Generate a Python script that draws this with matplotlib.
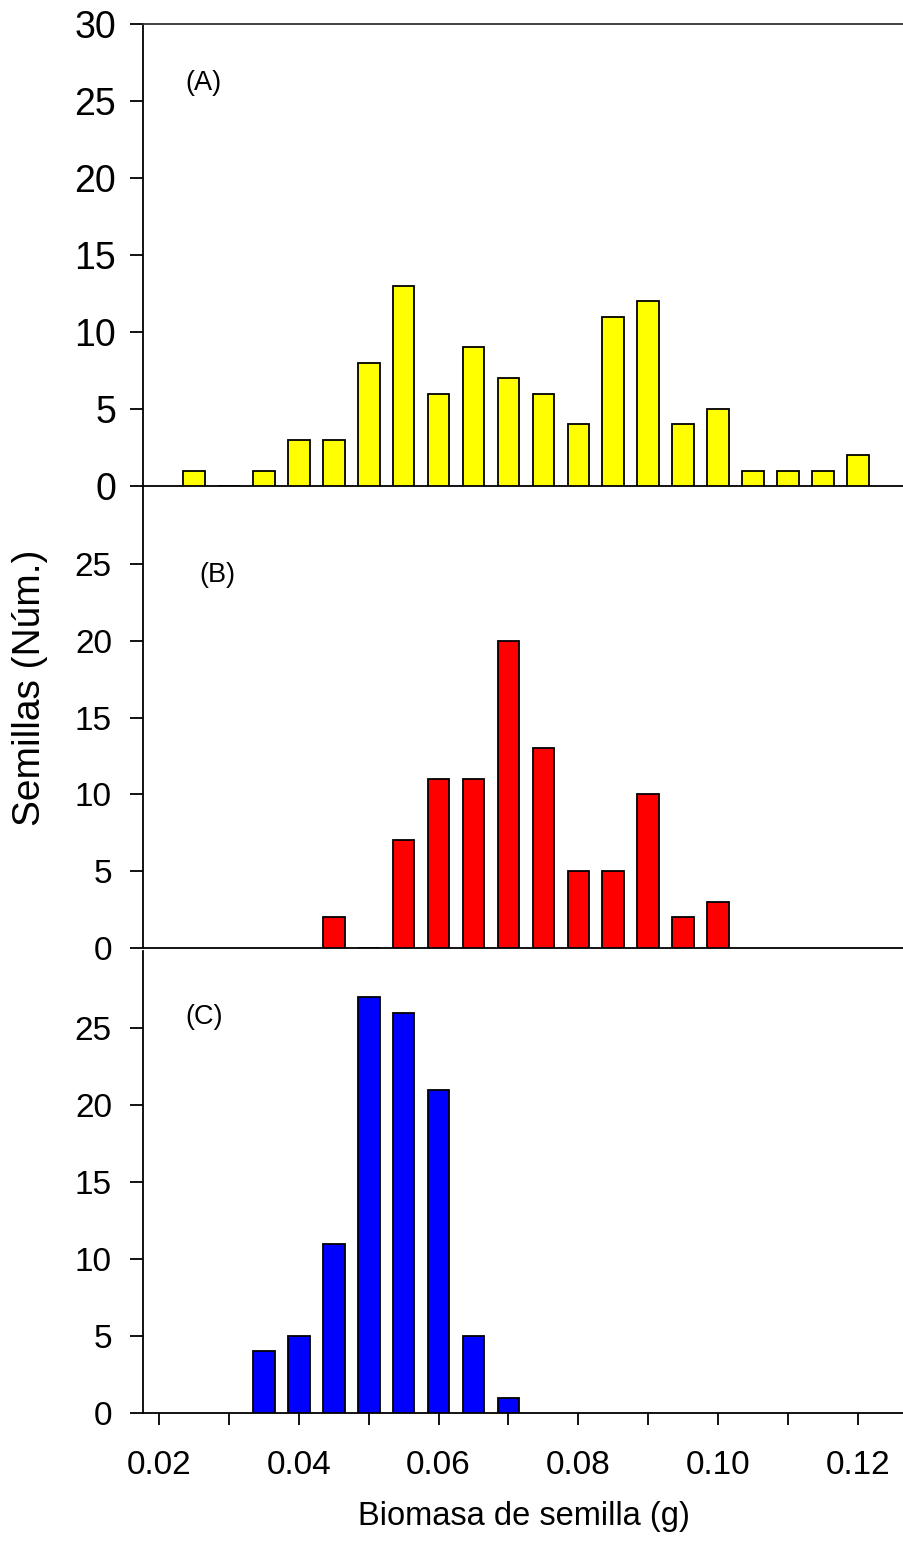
import matplotlib
matplotlib.use("Agg")
import matplotlib.pyplot as plt
from matplotlib.ticker import MultipleLocator
import numpy as np

# Data
bins_a = [0.025, 0.030, 0.035, 0.040, 0.045, 0.050, 0.055, 0.060, 0.065, 0.070,
          0.075, 0.080, 0.085, 0.090, 0.095, 0.100, 0.105, 0.110, 0.115, 0.120]
counts_a = [1, 0, 1, 3, 3, 8, 13, 6, 9, 7, 6, 4, 11, 12, 4, 5, 1, 1, 1, 2]

bins_b = [0.045, 0.050, 0.055, 0.060, 0.065, 0.070, 0.075, 0.080, 0.085, 0.090, 0.095, 0.100]
counts_b = [2, 0, 7, 11, 11, 20, 13, 5, 5, 10, 2, 3]

bins_c = [0.035, 0.040, 0.045, 0.050, 0.055, 0.060, 0.065, 0.070]
counts_c = [4, 5, 11, 27, 26, 21, 5, 1]

panel_labels = ["(A)", "(B)", "(C)"]
colors = ["#FFFF00", "#FF0000", "#0000FF"]
xticks_major = [0.02, 0.04, 0.06, 0.08, 0.10, 0.12]
xtick_labels = ["0.02", "0.04", "0.06", "0.08", "0.10", "0.12"]

font = ["Liberation Sans", "DejaVu Sans"]

W, H = 904, 1550
fig = plt.figure(figsize=(W / 100, H / 100), dpi=100)

left = 143 / W
right = 1.0
panels = [(24, 486), (487, 948), (951, 1413)]
datasets = [(bins_a, counts_a), (bins_b, counts_b), (bins_c, counts_c)]
label_pos = [(0.0238, 26.2), (0.0257, 24.3), (0.0238, 25.7)]

axes = []
for i, ((top, bot), (bx, by)) in enumerate(zip(panels, datasets)):
    ax = fig.add_axes([left, 1 - bot / H, right - left, (bot - top) / H])
    ax.bar(bx, by, width=0.0031, color=colors[i], edgecolor="black", linewidth=1.3, zorder=3)
    ax.set_xlim(0.0177, 0.1266)
    ax.set_ylim(0, 30)
    ax.spines["right"].set_visible(False)
    ax.spines["top"].set_visible(i == 0)
    for s in ["left", "bottom", "top"]:
        ax.spines[s].set_linewidth(1.3)
    ax.spines["top"].set_color("#333333")
    if i == 0:
        ax.set_yticks([0, 5, 10, 15, 20, 25, 30])
        ax.tick_params(axis="y", direction="out", length=9.4, width=1.3, pad=10, labelsize=27)
    else:
        ax.set_yticks([0, 5, 10, 15, 20, 25])
        ax.tick_params(axis="y", direction="out", length=9.4, width=1.3, pad=13, labelsize=24)
    for lab in ax.get_yticklabels():
        lab.set_family(font)
    lx, ly = label_pos[i]
    ax.text(lx, ly, panel_labels[i], fontsize=19.5, family=font, ha="left", va="center")
    if i < 2:
        ax.tick_params(axis="x", which="both", bottom=False, labelbottom=False)
    else:
        ax.set_xticks(xticks_major)
        ax.set_xticklabels(xtick_labels)
        ax.xaxis.set_minor_locator(MultipleLocator(0.01))
        ax.tick_params(axis="x", which="both", direction="out", length=8.3, width=1.3)
        ax.tick_params(axis="x", which="major", pad=18, labelsize=24)
        for lab in ax.get_xticklabels():
            lab.set_family(font)
        ax.set_xlabel("Biomasa de semilla (g)", fontsize=23.5, family=font, labelpad=15)
    axes.append(ax)

fig.text(30 / W, 1 - 688 / H, "Semillas (Núm.)", rotation=90, fontsize=28, family=font,
         ha="center", va="center")

fig.savefig("out.png", dpi=100)
